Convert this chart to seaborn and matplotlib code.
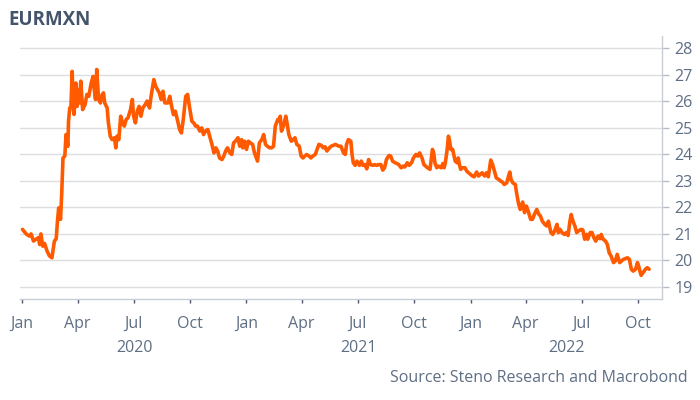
import pandas as pd
import seaborn as sns
import matplotlib.pyplot as plt
import matplotlib.dates as mdates
import matplotlib.transforms as mtransforms

# EURMXN, roughly every few days
dates = [
    "2020-01-02", "2020-01-08", "2020-01-13", "2020-01-16", "2020-01-20", "2020-01-24", "2020-01-28", "2020-01-30",
    "2020-02-01", "2020-02-04", "2020-02-07", "2020-02-11", "2020-02-15", "2020-02-19", "2020-02-23", "2020-02-26",
    "2020-02-28", "2020-03-01", "2020-03-04", "2020-03-06", "2020-03-08", "2020-03-11", "2020-03-13", "2020-03-16",
    "2020-03-17", "2020-03-19", "2020-03-21", "2020-03-23", "2020-03-25", "2020-03-26", "2020-03-29", "2020-03-31",
    "2020-04-02", "2020-04-04", "2020-04-06", "2020-04-09", "2020-04-13", "2020-04-16", "2020-04-19", "2020-04-23",
    "2020-04-26", "2020-04-28", "2020-04-30", "2020-05-02", "2020-05-05", "2020-05-08", "2020-05-11", "2020-05-13",
    "2020-05-15", "2020-05-19", "2020-05-21", "2020-05-24", "2020-05-27", "2020-05-31", "2020-06-02", "2020-06-04",
    "2020-06-07", "2020-06-10", "2020-06-14", "2020-06-16", "2020-06-19", "2020-06-22", "2020-06-26", "2020-06-29",
    "2020-07-01", "2020-07-04", "2020-07-07", "2020-07-10", "2020-07-13", "2020-07-16", "2020-07-20", "2020-07-23",
    "2020-07-27", "2020-07-30", "2020-08-03", "2020-08-06", "2020-08-09", "2020-08-12", "2020-08-15", "2020-08-18",
    "2020-08-21", "2020-08-26", "2020-08-29", "2020-09-01", "2020-09-04", "2020-09-07", "2020-09-11", "2020-09-14",
    "2020-09-17", "2020-09-20", "2020-09-24", "2020-09-27", "2020-09-30", "2020-10-04", "2020-10-07", "2020-10-10",
    "2020-10-13", "2020-10-17", "2020-10-20", "2020-10-23", "2020-10-26", "2020-10-30", "2020-11-02", "2020-11-05",
    "2020-11-09", "2020-11-12", "2020-11-15", "2020-11-18", "2020-11-22", "2020-11-25", "2020-11-28", "2020-12-01",
    "2020-12-05", "2020-12-08", "2020-12-11", "2020-12-14", "2020-12-18", "2020-12-21", "2020-12-24", "2020-12-26",
    "2020-12-29",
    "2021-01-01", "2021-01-04", "2021-01-07", "2021-01-11", "2021-01-14", "2021-01-17", "2021-01-19", "2021-01-22",
    "2021-01-26", "2021-01-29", "2021-02-01", "2021-02-04", "2021-02-08", "2021-02-11", "2021-02-14", "2021-02-17",
    "2021-02-21", "2021-02-23", "2021-02-25", "2021-02-27", "2021-03-03", "2021-03-06", "2021-03-08", "2021-03-11",
    "2021-03-15", "2021-03-18", "2021-03-21", "2021-03-24", "2021-03-28", "2021-03-31", "2021-04-03", "2021-04-06",
    "2021-04-09", "2021-04-13", "2021-04-16", "2021-04-19", "2021-04-23", "2021-04-26", "2021-04-29", "2021-05-03",
    "2021-05-06", "2021-05-09", "2021-05-12", "2021-05-16", "2021-05-19", "2021-05-22", "2021-05-26", "2021-05-29",
    "2021-06-01", "2021-06-04", "2021-06-08", "2021-06-11", "2021-06-13", "2021-06-16", "2021-06-20", "2021-06-22",
    "2021-06-24", "2021-06-27", "2021-06-30", "2021-07-04", "2021-07-07", "2021-07-10", "2021-07-13", "2021-07-16",
    "2021-07-19", "2021-07-22", "2021-07-26", "2021-07-29", "2021-08-01", "2021-08-04", "2021-08-08", "2021-08-11",
    "2021-08-14", "2021-08-17", "2021-08-21", "2021-08-24", "2021-08-27", "2021-08-31", "2021-09-03", "2021-09-06",
    "2021-09-10", "2021-09-13", "2021-09-16", "2021-09-20", "2021-09-23", "2021-09-27", "2021-09-30", "2021-10-04",
    "2021-10-07", "2021-10-10", "2021-10-14", "2021-10-17", "2021-10-20", "2021-10-23", "2021-10-27", "2021-10-29",
    "2021-10-31", "2021-11-02", "2021-11-04", "2021-11-07", "2021-11-10", "2021-11-14", "2021-11-17", "2021-11-19",
    "2021-11-21", "2021-11-24", "2021-11-26", "2021-11-28", "2021-11-30", "2021-12-03", "2021-12-07", "2021-12-10",
    "2021-12-12", "2021-12-14", "2021-12-16", "2021-12-19", "2021-12-23", "2021-12-26", "2021-12-29",
    "2022-01-01", "2022-01-04", "2022-01-07", "2022-01-11", "2022-01-14", "2022-01-17", "2022-01-20", "2022-01-24",
    "2022-01-27", "2022-01-30", "2022-02-03", "2022-02-06", "2022-02-09", "2022-02-12", "2022-02-16", "2022-02-19",
    "2022-02-22", "2022-02-25", "2022-03-01", "2022-03-04", "2022-03-06", "2022-03-08", "2022-03-11", "2022-03-15",
    "2022-03-17", "2022-03-20", "2022-03-23", "2022-03-27", "2022-03-30", "2022-04-02", "2022-04-05", "2022-04-09",
    "2022-04-12", "2022-04-15", "2022-04-19", "2022-04-22", "2022-04-25", "2022-04-28", "2022-05-02", "2022-05-05",
    "2022-05-08", "2022-05-12", "2022-05-15", "2022-05-18", "2022-05-22", "2022-05-24", "2022-05-27", "2022-05-30",
    "2022-06-03", "2022-06-06", "2022-06-09", "2022-06-12", "2022-06-14", "2022-06-17", "2022-06-20", "2022-06-23",
    "2022-06-26", "2022-06-30", "2022-07-03", "2022-07-06", "2022-07-09", "2022-07-11", "2022-07-15", "2022-07-18",
    "2022-07-21", "2022-07-24", "2022-07-28", "2022-07-31", "2022-08-02", "2022-08-05", "2022-08-09", "2022-08-12",
    "2022-08-15", "2022-08-18", "2022-08-22", "2022-08-25", "2022-08-28", "2022-09-01", "2022-09-04", "2022-09-07",
    "2022-09-10", "2022-09-14", "2022-09-17", "2022-09-20", "2022-09-23", "2022-09-27", "2022-09-30", "2022-10-02",
    "2022-10-04", "2022-10-06", "2022-10-09", "2022-10-13", "2022-10-16", "2022-10-19",
]

eurmxn = [
    21.17, 21.0, 20.92, 21.0, 20.73, 20.8, 20.86, 20.6,
    21.0, 20.54, 20.64, 20.36, 20.17, 20.1, 20.73, 20.82,
    21.48, 21.98, 21.55, 22.55, 23.86, 23.93, 24.74, 24.3,
    25.24, 25.74, 25.8, 27.12, 25.68, 25.5, 26.68, 25.8,
    26.43, 25.93, 26.75, 25.68, 25.87, 26.25, 26.18, 26.68,
    26.93, 26.43, 26.06, 27.19, 26.06, 25.93, 26.25, 26.31,
    25.93, 25.74, 25.18, 24.68, 24.55, 24.62, 24.24, 24.68,
    24.55, 25.43, 25.12, 25.06, 25.31, 25.37, 25.68, 26.06,
    25.43, 25.18, 25.62, 25.8, 25.43, 25.74, 25.87, 26.0,
    25.74, 26.25, 26.81, 26.56, 26.43, 26.31, 26.06, 26.37,
    25.93, 25.93, 26.18, 25.8, 25.49, 25.62, 25.24, 24.93,
    24.8, 25.31, 26.18, 26.25, 25.8, 25.24, 25.18, 25.06,
    25.06, 24.87, 24.99, 24.74, 24.87, 24.93, 24.68, 24.43,
    24.05, 24.24, 24.12, 23.86, 23.8, 23.93, 24.12, 24.24,
    24.05, 23.99, 24.43, 24.49, 24.62, 24.3, 24.55, 24.24,
    24.49,
    24.18, 24.49, 24.43, 24.37, 24.05, 23.86, 23.74, 24.43,
    24.55, 24.74, 24.37, 24.3, 24.24, 24.24, 24.3, 25.06,
    25.31, 25.24, 25.43, 24.87, 25.12, 25.43, 25.18, 24.74,
    24.49, 24.55, 24.62, 24.37, 24.3, 23.93, 23.86, 23.93,
    23.99, 23.93, 23.86, 23.93, 23.99, 24.18, 24.37, 24.33,
    24.24, 24.28, 24.12, 24.24, 24.3, 24.33, 24.37, 24.33,
    24.3, 24.3, 24.05, 23.99, 24.37, 24.55, 24.49, 23.99,
    23.68, 23.58, 23.74, 23.58, 23.74, 23.58, 23.61, 23.45,
    23.8, 23.61, 23.58, 23.61, 23.58, 23.61, 23.61, 23.4,
    23.49, 23.8, 23.95, 23.93, 23.74, 23.68, 23.65, 23.61,
    23.49, 23.55, 23.52, 23.68, 23.58, 23.68, 23.86, 23.99,
    23.93, 24.05, 23.86, 23.61, 23.55, 23.49, 23.43, 23.8,
    24.18, 24.05, 23.68, 23.49, 23.55, 23.49, 23.65, 23.49,
    23.68, 24.18, 24.68, 24.49, 24.18, 24.18, 23.74, 23.68,
    23.86, 23.61, 23.43, 23.49, 23.49, 23.36, 23.3,
    23.24, 23.18, 23.15, 23.33, 23.18, 23.24, 23.3, 23.18,
    23.3, 23.15, 23.78, 23.61, 23.36, 23.11, 23.05, 22.99,
    22.95, 22.86, 22.92, 23.18, 23.33, 23.05, 22.92, 22.86,
    22.55, 22.17, 21.92, 22.2, 21.8, 22.05, 21.86, 21.55,
    21.55, 21.73, 21.92, 21.75, 21.67, 21.48, 21.36, 21.3,
    21.48, 21.05, 20.98, 21.11, 21.36, 21.05, 21.17, 21.05,
    20.98, 21.05, 20.94, 21.48, 21.73, 21.48, 21.3, 21.05,
    21.11, 21.17, 21.15, 20.8, 20.98, 20.8, 21.05, 21.05,
    20.86, 20.73, 20.92, 20.82, 20.98, 20.8, 20.73, 20.6,
    20.29, 20.17, 19.92, 19.98, 20.23, 19.92, 19.98, 20.04,
    20.07, 20.1, 20.04, 19.67, 19.6, 19.67, 19.92, 19.79,
    19.6, 19.44, 19.54, 19.67, 19.73, 19.67,
]

y_ticks = [19, 20, 21, 22, 23, 24, 25, 26, 27, 28]
years = [2020, 2021, 2022]

title_col = "#44546A"
text_col = "#5E6E84"
grid_col = "#DCDDE0"
line_col = "#FF5A00"

sns.set_theme(style="white")
plt.rcParams["font.family"] = ["Open Sans", "DejaVu Sans"]

df = pd.DataFrame({"date": pd.to_datetime(dates), "eurmxn": eurmxn})

fig = plt.figure(figsize=(7, 4), dpi=100)
ax = fig.add_axes([0.0286, 0.2525, 0.9171, 0.6575])

sns.lineplot(data=df, x="date", y="eurmxn", color=line_col, linewidth=2.6, ax=ax)

x_lo = pd.Timestamp("2019-12-29")
x_hi = pd.Timestamp("2022-11-09")
ax.set_xlim(x_lo, x_hi)
ax.set_ylim(18.55, 28.45)

# y axis on the right
ax.yaxis.tick_right()
ax.set_yticks(y_ticks)
ax.grid(axis="y", color=grid_col, linewidth=1)
ax.grid(axis="x", visible=False)
ax.tick_params(axis="y", which="major", right=True, left=False, length=5, width=1,
               color="#B8BDC6", labelcolor=text_col, labelsize=11.5, pad=4)

# quarterly month labels, Jan ticks a bit longer
ax.xaxis.set_major_locator(mdates.MonthLocator(bymonth=[1, 4, 7, 10]))
ax.xaxis.set_major_formatter(mdates.DateFormatter("%b"))
ax.xaxis.set_minor_locator(mdates.MonthLocator(bymonth=[1]))
ax.tick_params(axis="x", which="major", bottom=True, length=3, width=1,
               color="#4A5568", labelcolor=text_col, labelsize=11.5, pad=9)
ax.tick_params(axis="x", which="minor", bottom=True, length=6, width=1, color="#4A5568")

ax.set_xlabel("")
ax.set_ylabel("")

for s in ["top", "left"]:
    ax.spines[s].set_visible(False)
ax.spines["right"].set_color("#C8CCD3")
ax.spines["bottom"].set_color("#C8CCD3")
ax.spines["right"].set_linewidth(1)
ax.spines["bottom"].set_linewidth(1)

# year labels centred under the visible part of each year
trans = mtransforms.blended_transform_factory(ax.transData, ax.transAxes)
for yr in years:
    a = max(pd.Timestamp(f"{yr}-01-01"), x_lo)
    b = min(pd.Timestamp(f"{yr + 1}-01-01"), x_hi)
    mid = a + (b - a) / 2
    ax.text(mdates.date2num(mid), -0.185, str(yr), transform=trans, ha="center", va="center",
            fontsize=11.5, color=text_col)

fig.text(0.012, 0.95, "EURMXN", fontsize=13.5, fontweight="bold", color=title_col,
         ha="left", va="center")
fig.text(0.983, 0.055, "Source: Steno Research and Macrobond", fontsize=11.5, color=text_col,
         ha="right", va="center")

fig.savefig("out.png", dpi=100)
